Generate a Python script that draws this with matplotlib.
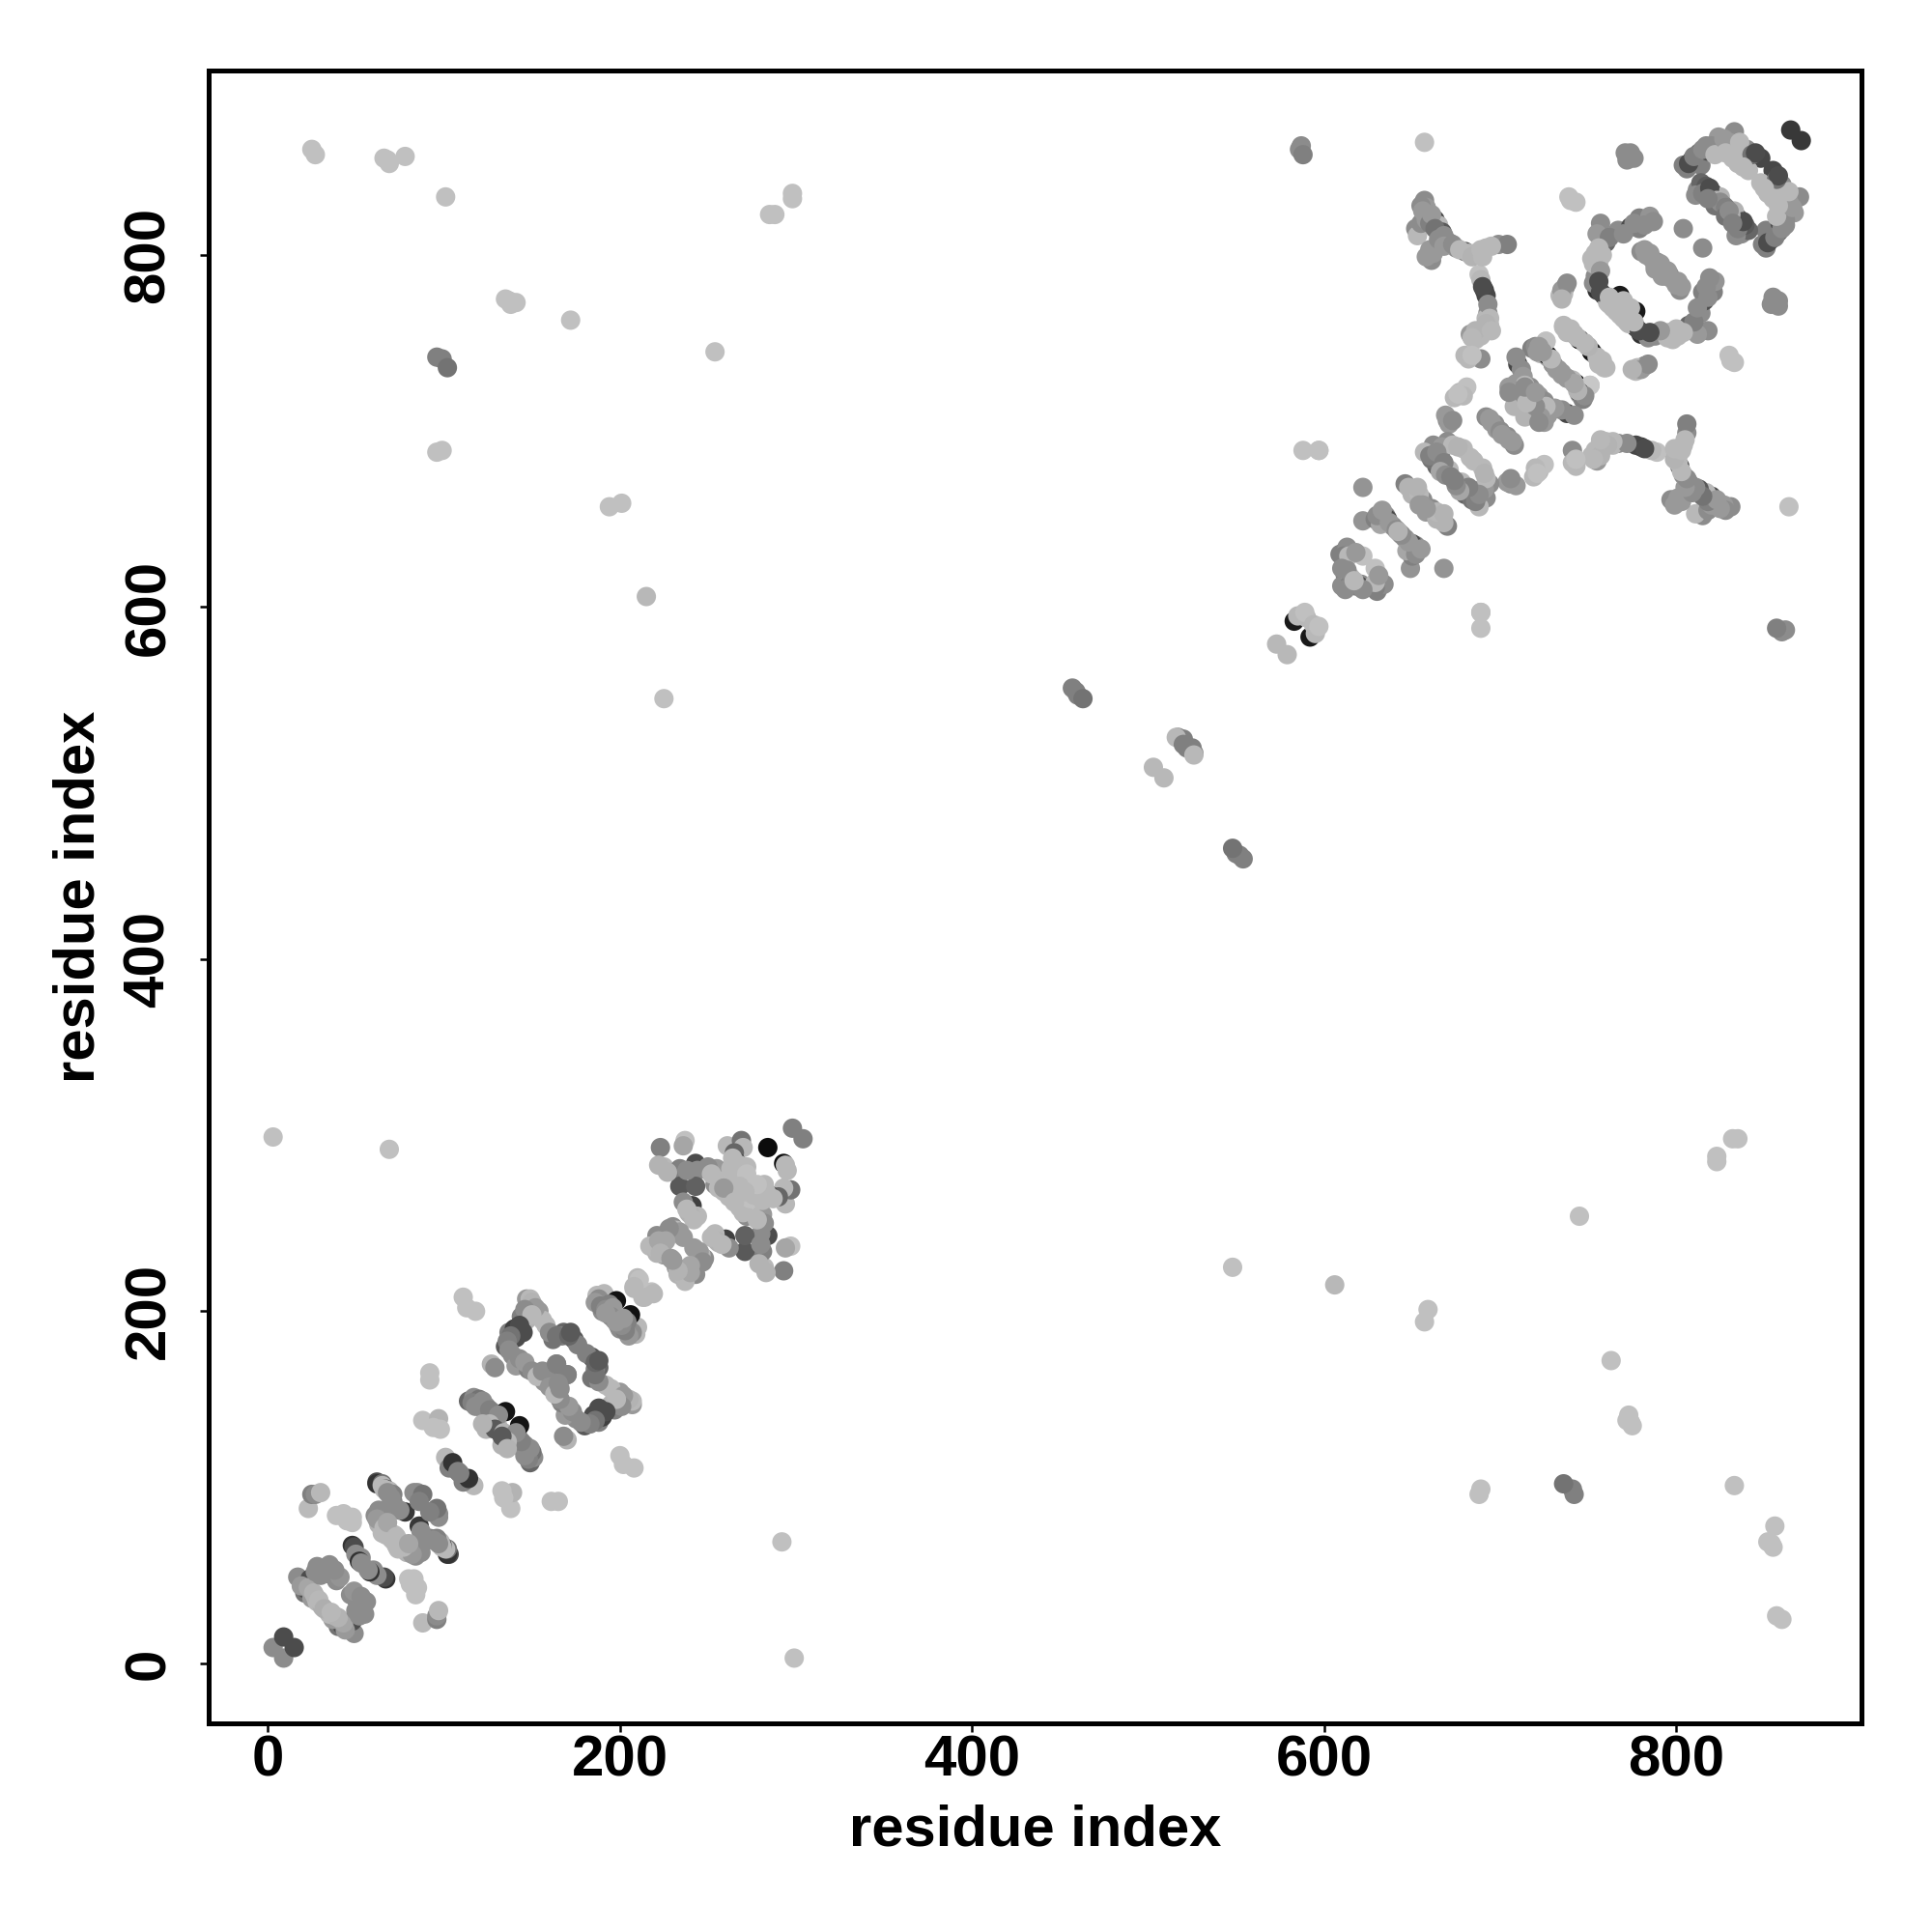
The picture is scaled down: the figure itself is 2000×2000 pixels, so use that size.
import numpy as np
import matplotlib
matplotlib.use("Agg")
import matplotlib.pyplot as plt

plt.rcParams['font.family'] = ['Liberation Sans', 'DejaVu Sans']

# contacts (residue i, residue j, gray level); each is drawn at (i,j) and (j,i)
ring_a = [(3,9,.55),(9,15,.3),(17,49,.55),(24,48,.3),(28,55,.55),(35,55,.25),(37,50,.25),(35,56,.55),
          (39,47,.55),(41,49,.58),(21,40,.45),(22,42,.3),(25,37,.6),(27,38,.7),(28,35,.72),(31,32,.68),
          (48,67,.2),(49,66,.3),(50,62,.55),(53,60,.55),(52,58,.2),(53,57,.55),
          (19,44,.6),(23,43,.65),(26,40,.7),(29,36,.72),(30,50,.55),(32,54,.55),(38,53,.55),(27,52,.55)]
light_a = [(39,84,.75),(43,85,.75),(48,83,.75),(45,81,.75),(48,80,.75),(23,88,.73),
           (25,96,.5),(27,96,.55),(30,97,.72)]
ring_b = [(62,103,.3),(62,102,.2),(65,102,.45),(65,101,.72),(67,99,.3),(69,98,.72),(71,96,.5),(71,92,.5),
          (83,97,.55),(85,97,.55),(88,96,.45),(78,86,.22),(68,85,.55),(63,87,.55),(64,83,.5),(65,86,.55),
          (63,79,.7),(66,80,.62),(65,74,.72),(69,75,.72),(70,71,.72),
          (66,99,.72),(68,97,.55),(70,94,.55),(86,92,.5),(72,88,.55),(75,87,.55),(61,84,.55),(62,82,.6),
          (66,77,.72),(67,73,.72),(72,73,.72),(68,80,.65)]
light_b = [(92,165,.75),(92,161,.75),(88,138,.75),(97,139,.7),(94,134,.75),(98,133,.75),
           (127,170,.7),(129,168,.55),(111,208,.75),(113,202,.75),(118,200,.75)]
near_b = [(101,117,.72),(103,111,.5),(105,114,.2),(108,109,.5)]
ring_c = [(147,207,.6),(149,207,.72),(144,197,.5),(147,195,.7),(154,200,.6),(156,195,.72),(137,188,.5),
          (140,190,.25),(145,188,.3),(141,185,.3),(135,180,.35),(139,175,.55),(141,169,.6),(148,167,.5),
          (154,164,.55),(157,160,.58),(164,170,.5),(170,164,.5),(162,184,.45),(168,188,.4),(174,184,.35),
          (176,181,.5),(167,186,.5),
          (150,205,.7),(152,202,.6),(146,201,.55),(150,198,.72),(158,192,.72),(160,188,.55),(164,186,.45),
          (171,186,.4),(172,188,.35),(143,192,.3),(138,186,.45),(136,183,.5),(137,178,.55),(143,173,.55),
          (146,171,.6),(150,166,.55),(153,163,.72),(156,166,.55),(159,165,.55)]
block_c = [(114,149,.4),(117,151,.55),(120,150,.45),(124,146,.55),(129,142,.55),(135,143,.08),
           (124,133,.7),(128,135,.25),(131,134,.7),
           (116,148,.5),(118,146,.55),(122,149,.55),(123,144,.55),(126,144,.5),(131,141,.55),(126,136,.72),
           (129,133,.35),(122,136,.7)]
near_c = [(187,209,.72),(191,210,.72),(188,207,.55),(190,200,.55),(198,206,.07),(194,204,.5),
          (197,195,.55),(199,192,.6),
          (186,205,.6),(189,203,.5),(192,201,.55),(194,198,.6),(196,202,.6),
          (210,219,.72),(208,213,.72),(218,211,.75),(214,208,.72)]
block_d = [(223,293,.5),(237,297,.75),(236,294,.65),(225,282,.72),(222,283,.7),(234,281,.5),(243,284,.3),
           (244,280,.55),(234,271,.35),(243,271,.38),(255,281,.6),(254,272,.55),(258,274,.72),(262,272,.75),
           (241,260,.25),(236,262,.55),(239,256,.72),(244,254,.72),(230,248,.55),(232,246,.72),(236,242,.6),
           (221,243,.55),(217,237,.72),(221,233,.7),(225,232,.6),(261,294,.72),(269,297,.45),(270,293,.72),
           (265,290,.4),(266,285,.3),(272,282,.72),(284,293,.05),(298,304,.5),(272,262,.72),(270,259,.6),
           (227,279,.7),(238,280,.55),(250,282,.55),(252,278,.72),(256,270,.72),(259,268,.72),(262,268,.72),
           (264,274,.75),(266,276,.72),(263,281,.72),(264,287,.72),(268,283,.72),(272,278,.75),(268,271,.72),
           (240,255,.7),(242,252,.72),(238,258,.72),(234,245,.6),(228,247,.55),(226,240,.65),(220,236,.72),
           (222,240,.65),(223,233,.7),(229,230,.6),(262,265,.72)]
far_light = [(25,860,.75),(27,857,.75),(66,855,.75),(68,854,.75),(69,852,.75),(78,856,.75),(101,833,.75),
             (285,823,.75),(288,823,.75),(298,835,.75),(298,832,.75),(135,775,.75),(137,774,.75),(138,772,.75),
             (141,773,.75),(172,763,.75),(254,745,.75),(96,742,.5),(99,741,.5),(102,736,.45),(96,688,.75),
             (99,689,.75),(194,657,.75),(201,659,.75),(215,606,.72),(225,548,.75),(3,299,.75),(69,292,.75)]
middle = [(457,554,.5),(459,552,.5),(460,550,.5),(463,548,.45),(503,509,.72),(517,526,.5),(520,525,.5),
          (522,520,.5),(516,526,.72),(573,579,.72),(583,592,.1),(585,595,.72),(590,594,.72)]
upper_far = [(587,862,.55),(586,860,.55),(588,857,.5),(657,864,.75),(588,689,.75),(597,689,.75),(597,689,.75),
             (589,597,.75)]
block_e = [(622,668,.58),(622,649,.58),(629,650,.5),(635,652,.55),(636,650,.3),(639,646,.55),(632,647,.65),
           (646,670,.5),(648,668,.7),(652,666,.7),(656,661,.55),(658,654,.6),
           (612,632,.55),(609,630,.5),(613,634,.55),(622,629,.75),(612,620,.3),(612,618,.5),(615,615,.5),(610,612,.55),
           (621,613,.55),
           (630,652,.55),(633,655,.6),(637,648,.6),(641,644,.55),(643,642,.7),(650,664,.7),(654,664,.72),(653,668,.7),
           (656,658,.6),(611,629,.5),(614,629,.72),(618,631,.6),(610,622,.55),(615,617,.72)]
y_arm = [(657,831,.55),(658,827,.6),(659,823,.5),(652,815,.55),(653,811,.72),(655,818,.55),(663,820,.28),(665,817,.72),
         (667,813,.35),(661,797,.55),(662,801,.6),(663,804,.6),(671,807,.5),(675,804,.55),(680,802,.3),(682,801,.72),
         (686,801,.72),(692,804,.72),(699,806,.55),(704,806,.5),(688,789,.75),(691,780,.25),(692,777,.28),
         (693,767,.55),(694,760,.72),(692,764,.72),(683,755,.6),(689,754,.72),(686,752,.72),(680,743,.72),(689,741,.55),
         (655,828,.55),(656,825,.6),(658,820,.6),(660,818,.5),(661,823,.6),(663,815,.45),(668,811,.55),(658,799,.6),
         (660,803,.6),(665,809,.55),(668,805,.6),(673,806,.55),(677,803,.72),(684,799,.7),(689,803,.72),(690,799,.72),
         (695,805,.72),(689,786,.72),(690,782,.3),(693,772,.55),(694,764,.72),(690,758,.72),(692,761,.7),(686,757,.7),
         (684,753,.72),(695,757,.72),(682,741,.72),(684,743,.75)]
helix_f = [(737,782,.5),(734,777,.72),(736,778,.72),(736,759,.72),(740,757,.72),(745,752,.08),(752,745,.08),
           (755,742,.7),(760,736,.72),(757,738,.72),(726,751,.78),(722,745,.05),(718,747,.5),(730,738,.6),(743,727,.05),
           (738,730,.58),(745,721,.6),(751,726,.75),(710,738,.28),(709,742,.55),(717,725,.55),(709,727,.6),(705,725,.6),
           (711,717,.55),(708,714,.7),(677,722,.72),(681,725,.75),(674,719,.72),(670,706,.55),(669,709,.6),
           (692,708,.55),(694,707,.6),(697,704,.55),(700,700,.55),
           (735,780,.6),(738,784,.55),(735,775,.7),(738,756,.72),(742,755,.72),(748,750,.7),(750,748,.72),(753,744,.72),
           (758,740,.72),(720,748,.55),(723,744,.7),(727,742,.65),(733,735,.6),(735,732,.6),(741,729,.72),(745,724,.6),
           (748,722,.6),(712,735,.55),(713,731,.6),(714,726,.72),(708,723,.6),(705,722,.55),(714,720,.55),(720,718,.55),
           (716,715,.72),(725,714,.55),(722,720,.6),(679,720,.72),(676,721,.75),(671,704,.6),(673,706,.55),(695,705,.6),
           (698,701,.6)]
ring_g = [(670,694,.55),(679,690,.72),(662,692,.55),(657,688,.72),(664,680,.4),(666,686,.5),(661,684,.45),
          (671,678,.72),(683,685,.72),
          (660,686,.5),(667,691,.6),(673,692,.72),(676,691,.7),(664,688,.55),(668,682,.5),(666,677,.65),(669,675,.55),
          (672,674,.5)]
ring_h = [(757,818,.55),(767,814,.55),(774,816,.3),(779,821,.5),(785,822,.58),(779,815,.5),(760,807,.4),
          (754,801,.72),(756,796,.72),(804,815,.55),(780,802,.55),(783,800,.6),(786,798,.6),(789,796,.55),
          (754,788,.55),(755,780,.2),(759,777,.25),(768,777,.1),(761,773,.72),(764,770,.72),(772,762,.72),
          (740,831,.75),(743,830,.75),(739,833,.75),(771,858,.55),(774,858,.55),(772,854,.55),(776,855,.55),
          (755,812,.6),(762,810,.5),(770,812,.55),(776,818,.55),(782,817,.55),(787,819,.55),(756,804,.72),(758,800,.72),
          (752,798,.72),(753,795,.72),(757,791,.6),(753,784,.55),(756,785,.3),(757,779,.3),(762,776,.72),(763,773,.72),
          (766,768,.72),(769,766,.72),(770,774,.72),(782,803,.6),(785,801,.6),(788,794,.6),(791,795,.6),(792,788,.6),
          (795,789,.6)]
ring_k = [(806,849,.5),(809,854,.25),(813,858,.4),(814,851,.5),(817,862,.55),(818,859,.3),(824,867,.6),(833,870,.55),
          (840,860,.55),(848,855,.28),(838,854,.72),(835,852,.72),(841,848,.72),(812,837,.55),(814,841,.4),(817,839,.35),
          (821,835,.3),(825,833,.7),(827,828,.5),(865,871,.22),
          (804,851,.5),(807,852,.3),(810,856,.5),(815,860,.55),(820,862,.55),(822,857,.72),(827,866,.6),(830,864,.6),
          (836,864,.72),(843,857,.45),(845,858,.3),(828,858,.72),(832,855,.72),(838,850,.72),(811,834,.55),(815,835,.5),
          (819,838,.3),(823,831,.7),(822,828,.45),(825,830,.55),(818,832,.5)]

# single marks lying over a dark mark on one side of the diagonal only (x, y, gray level)
overlay_x = [294, 295]
overlay_y = [283, 280]
overlay_gray = [.72, .72]

contacts = np.array(ring_a + light_a + ring_b + light_b + near_b + ring_c + block_c + near_c + block_d
                    + far_light + middle + upper_far + block_e + y_arm + helix_f + ring_g + ring_h + ring_k)
res_i, res_j, gray = contacts[:, 0], contacts[:, 1], contacts[:, 2]

x_ticks = [0, 200, 400, 600, 800]
y_ticks = [0, 200, 400, 600, 800]
x_label = "residue index"
y_label = "residue index"

fig = plt.figure(figsize=(10, 10), dpi=200)
ax = fig.add_axes([216/2000, (2000-1783.7)/2000, (1927-216)/2000, (1783.7-73)/2000])
ax.scatter(np.concatenate([res_i, res_j, overlay_x]), np.concatenate([res_j, res_i, overlay_y]),
           c=np.concatenate([gray, gray, overlay_gray]), cmap='gray', vmin=0, vmax=1, s=52, linewidths=0, zorder=2)
ax.set_xlim(-33.6, 905.2)
ax.set_ylim(-33.9, 904.8)
ax.set_xticks(x_ticks)
ax.set_yticks(y_ticks)
for s in ax.spines.values():
    s.set_linewidth(1.8)
ax.tick_params(axis='x', length=3.2, width=0.9, labelsize=21.6, pad=0.9)
ax.tick_params(axis='y', length=3.2, width=0.9, labelsize=21.6, pad=9)
for t in ax.get_xticklabels():
    t.set_fontweight('bold')
for t in ax.get_yticklabels():
    t.set_fontweight('bold')
    t.set_rotation(90)
    t.set_va('center')
ax.set_xlabel(x_label, fontsize=21.5, fontweight='bold', labelpad=6.2)
ax.set_ylabel(y_label, fontsize=21.5, fontweight='bold', labelpad=6.5)
fig.savefig("out.png", dpi=200, facecolor='white')
